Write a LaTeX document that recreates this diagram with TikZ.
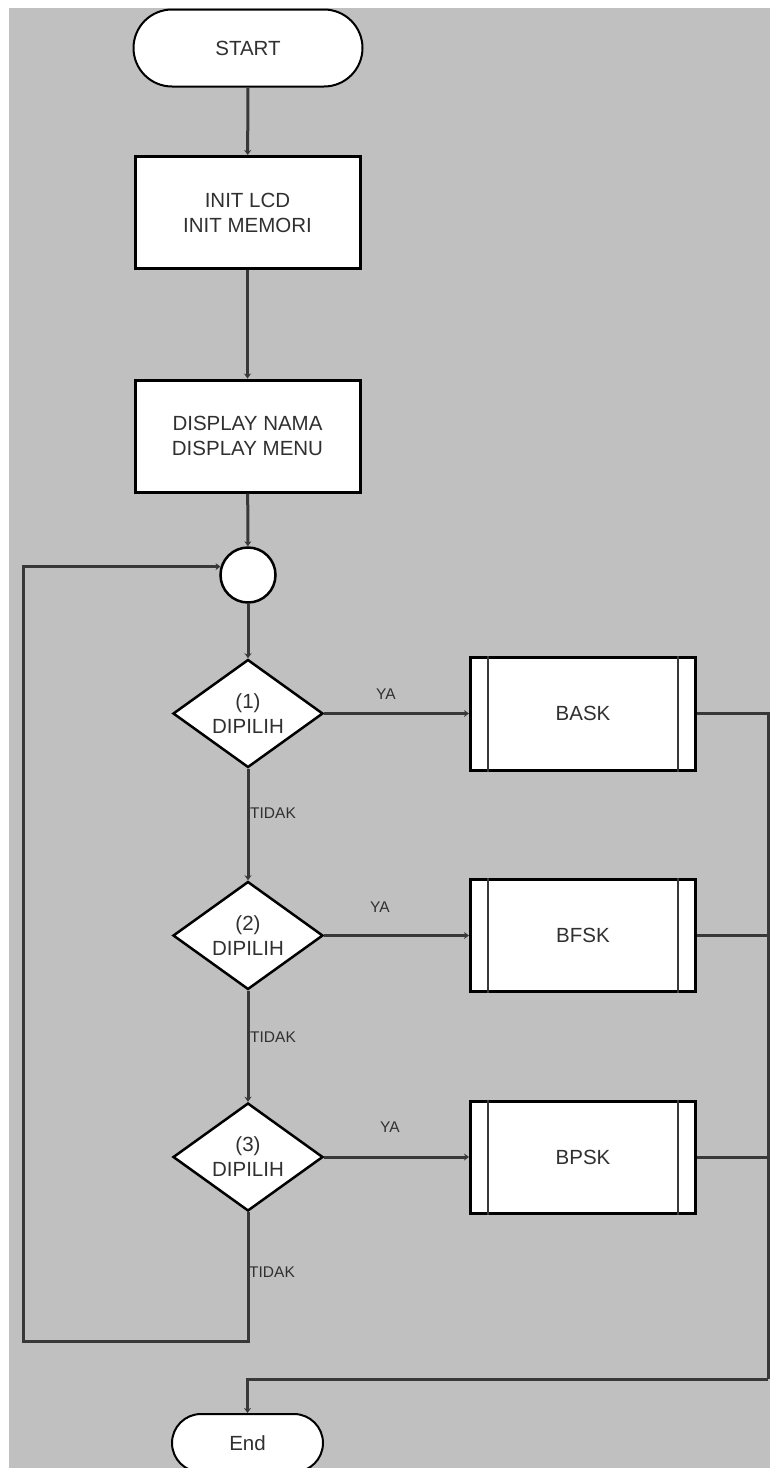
\documentclass[tikz,border=0pt]{standalone}
\usepackage{fontspec}
\setmainfont{Liberation Sans}
\usetikzlibrary{shapes.geometric,shapes.misc,arrows.meta}
\definecolor{bg}{HTML}{C0C0C0}
\definecolor{ln}{HTML}{383838}
\definecolor{tx}{HTML}{303030}
\begin{document}
\begin{tikzpicture}[x=1pt,y=-1pt,
  every node/.style={text=tx},
  main/.style={font=\fontsize{20.5}{25}\selectfont, align=center},
  lbl/.style={font=\fontsize{15.5}{17}\selectfont, inner sep=0pt},
  term/.style={main, rounded rectangle, draw=black, line width=2pt, fill=white, inner sep=0pt},
  procbox/.style={main, rectangle, draw=black, line width=3pt, fill=white, minimum width=225pt, minimum height=112pt, inner sep=0pt},
  decis/.style={main, diamond, aspect=1.4, draw=black, line width=2.5pt, fill=white, minimum width=150pt, minimum height=108pt, inner sep=0pt},
  conn/.style={draw=ln, line width=3pt},
  arr/.style={conn, -{Stealth[length=5pt,width=7pt]}},
  innerln/.style={draw=ln, line width=2.5pt}
]
\useasboundingbox (0,0) rectangle (770,1468);
\fill[bg] (9,8) rectangle (770,1468);

\node[term, minimum width=229pt, minimum height=77pt] (start) at (248,48) {START};
\node[procbox] (init) at (247.5,212.5) {INIT LCD\\INIT MEMORI};
\node[procbox] (disp) at (247.5,436) {DISPLAY NAMA\\DISPLAY MENU};
\node[circle, draw=black, line width=2.5pt, fill=white, minimum size=55pt, inner sep=0pt] (circ) at (248,575) {};
\node[decis] (d1) at (248,713.5) {(1)\\DIPILIH};
\node[decis] (d2) at (248,935.5) {(2)\\DIPILIH};
\node[decis] (d3) at (248,1157) {(3)\\DIPILIH};
\node[procbox, minimum height=113pt] (p1) at (583,713.5) {BASK};
\node[procbox] (p2) at (583,935.5) {BFSK};
\node[procbox] (p3) at (583,1157) {BPSK};
\node[term, minimum width=151pt, minimum height=58pt] (endn) at (247.5,1443) {End};

\foreach \p in {p1,p2,p3}{
  \draw[innerln] ([xshift=19pt]\p.north west) -- ([xshift=19pt]\p.south west);
  \draw[innerln] ([xshift=-19pt]\p.north east) -- ([xshift=-19pt]\p.south east);
}

\coordinate (loopL) at (23,1341);
\coordinate (busR) at (768,1379);

\draw[arr] (start) -- (init);
\draw[arr] (init) -- (disp);
\draw[arr] (disp) -- (circ);
\draw[arr] (circ) -- (d1);
\draw[arr] (d1) -- (d2);
\draw[arr] (d2) -- (d3);
\draw[arr] (d1.east) -- (p1.west);
\draw[arr] (d2.east) -- (p2.west);
\draw[arr] (d3.east) -- (p3.west);
\draw[arr] (d3.south) |- (loopL) |- (circ.163);
\draw[conn] (p1.east) -| (busR);
\draw[conn] (p2.east) -- (p2.east -| busR);
\draw[conn] (p3.east) -- (p3.east -| busR);
\draw[arr] (busR) -| (endn.north);

\node[lbl] (ya1) at (386,694) {YA};
\node[lbl] (ya2) at (380,907) {YA};
\node[lbl] (ya3) at (390,1127) {YA};
\node[lbl, anchor=west] (td1) at (250,813) {TIDAK};
\node[lbl, anchor=west] (td2) at (250,1037) {TIDAK};
\node[lbl, anchor=west] (td3) at (249,1272) {TIDAK};
\end{tikzpicture}
\end{document}
